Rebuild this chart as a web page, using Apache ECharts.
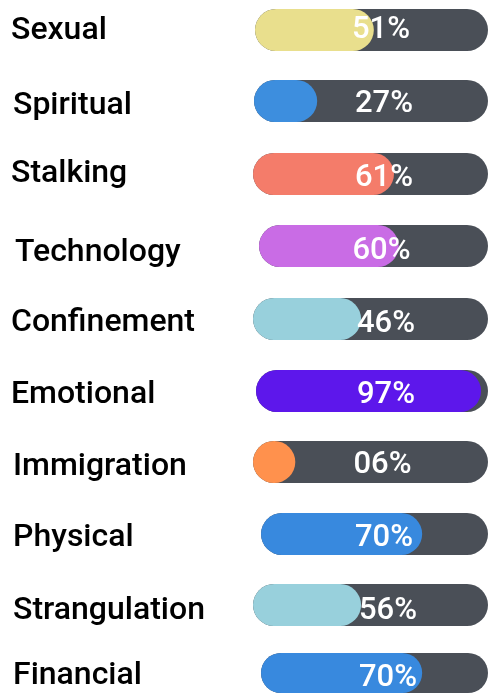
<!DOCTYPE html>
<html><head><meta charset="utf-8">
<script src="https://cdn.jsdelivr.net/npm/echarts@6/dist/echarts.min.js"></script>
<style>html,body{margin:0;padding:0;background:#fff}#c{width:488px;height:693px}</style>
</head><body><div id="c"></div>
<script>
// ---- data ----
const categories = ['Sexual','Spiritual','Stalking','Technology','Confinement','Emotional','Immigration','Physical','Strangulation','Financial'];
const percentValues = [51,27,61,60,46,97,6,70,56,70];
const fillValues = [51,27,60,61,46,97,18,71,46,71];
// ---- styles / layout ----
const fillColors = ['#e9df8d','#3d8ede','#f47c6a','#c96ce5','#98d0dc','#5d17eb','#ff914d','#3889de','#98d0dc','#3889de'];
const trackColor = '#4a4f57';
const trackX = [255,254,253,259,253,256,253,261,253,261];
const trackTop = [9,80,153,225,298,370,441,513,584,653];
const labelX = [11,13,11,15,11,11,13,13,13,13];
const labelDy = [1,5,-0.5,7,4,3.5,5,4,6,3];
const pctDx = [9.5,13,13.5,8,15.5,14,12,9.5,17.5,13.5];
const pctDy = [0,3.5,4.5,5,5,4,3.5,4,6.5,5];
const H = 42;

const grids = [], xAxes = [], yAxes = [], series = [];
categories.forEach((cat, i) => {
  grids.push({left: trackX[i], right: 0, top: trackTop[i], height: H});
  xAxes.push({type:'value', gridIndex:i, min:0, max:100, show:false});
  const d = labelDy[i];
  yAxes.push({type:'category', gridIndex:i, data:[cat],
    axisLine:{show:false}, axisTick:{show:false}, splitLine:{show:false},
    axisLabel:{margin: trackX[i]-labelX[i], align:'left',
      formatter: v => '{t|' + v + '}',
      rich:{t:{color:'#000', fontFamily:'Roboto', fontWeight:500, fontSize:32,
        padding: d>0 ? [2*d,0,0,0] : [0,0,-2*d,0]}}}});
  series.push({type:'bar', xAxisIndex:i, yAxisIndex:i, data:[100], barWidth:H, barGap:'-100%',
    silent:true, z:1, itemStyle:{color:trackColor, borderRadius:H/2}});
  series.push({type:'bar', xAxisIndex:i, yAxisIndex:i, data:[fillValues[i]], barWidth:H, barGap:'-100%',
    silent:true, z:2, itemStyle:{color:fillColors[i], borderRadius:H/2}});
  series.push({type:'bar', xAxisIndex:i, yAxisIndex:i, data:[100], barWidth:H, barGap:'-100%',
    silent:true, z:3, itemStyle:{color:'rgba(0,0,0,0)'},
    label:{show:true, position:'inside', offset:[pctDx[i], pctDy[i]],
      formatter: () => String(percentValues[i]).padStart(2,'0') + '%',
      color:'#fff', fontFamily:'Roboto', fontWeight:500, fontSize:31}});
});

const chart = echarts.init(document.getElementById('c'), null, {renderer:'canvas'});
chart.setOption({animation:false, grid:grids, xAxis:xAxes, yAxis:yAxes, series:series});
</script>
</body></html>
